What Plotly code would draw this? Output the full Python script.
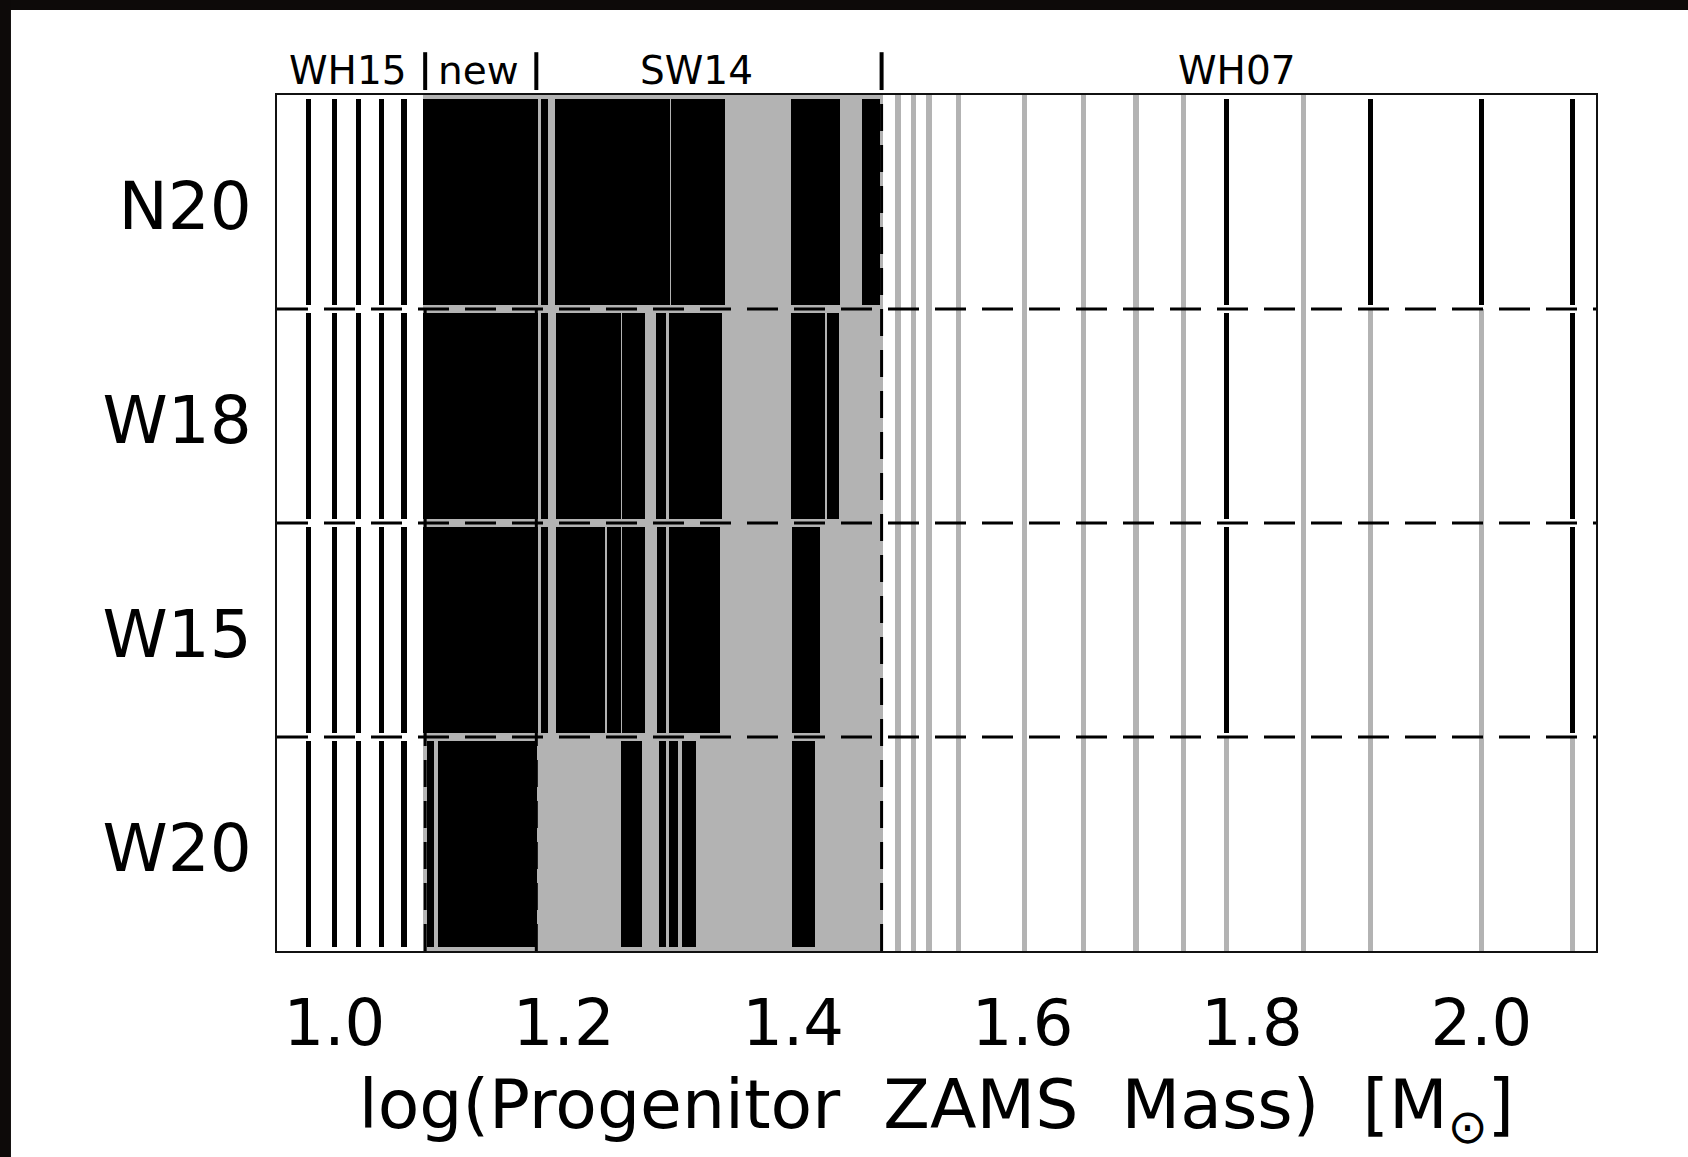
import numpy as np
import plotly.graph_objects as go

# Explosion engines, top to bottom
rows = ["N20", "W18", "W15", "W20"]

# Progenitor model series and the masses (Msun) where one series hands over to the next
series_names = ["WH15", "new", "SW14", "WH07"]
series_bounds = [12.0, 15.0, 30.0]

# Sparse low-mass models (WH15), 1 = explodes
wh15_mass = [9.5, 10.0, 10.5, 11.0, 11.5]
wh15_explodes = {
    "N20": [1, 1, 1, 1, 1],
    "W18": [1, 1, 1, 1, 1],
    "W15": [1, 1, 1, 1, 1],
    "W20": [1, 1, 1, 1, 1],
}

# Sparse high-mass models (WH07), 1 = explodes, 0 = black hole
wh07_mass = [31, 32, 33, 35, 40, 45, 50, 55, 60, 70, 80, 100, 120]
wh07_explodes = {
    "N20": [0, 0, 0, 0, 0, 0, 0, 0, 1, 0, 1, 1, 1],
    "W18": [0, 0, 0, 0, 0, 0, 0, 0, 1, 0, 0, 0, 1],
    "W15": [0, 0, 0, 0, 0, 0, 0, 0, 1, 0, 0, 0, 1],
    "W20": [0, 0, 0, 0, 0, 0, 0, 0, 0, 0, 0, 0, 0],
}

# Densely sampled grid (new + SW14), log10(M) extent
dense_span = [1.0775, 1.4785]

# Exploding stretches of the dense grid, log10(M) [low, high]
explosion_ranges = {
    "N20": [(1.0770, 1.1773), (1.1801, 1.1862), (1.1922, 1.2925), (1.2935, 1.3409),
            (1.3978, 1.4412), (1.4601, 1.4761)],
    "W18": [(1.0770, 1.1773), (1.1801, 1.1862), (1.1933, 1.2498), (1.2508, 1.2712),
            (1.2805, 1.2894), (1.2922, 1.3380), (1.3978, 1.4281), (1.4298, 1.4398)],
    "W15": [(1.0770, 1.1773), (1.1801, 1.1862), (1.1933, 1.2360), (1.2378, 1.2502),
            (1.2512, 1.2709), (1.2812, 1.2894), (1.2922, 1.3366), (1.3989, 1.4234)],
    "W20": [(1.0807, 1.0865), (1.0908, 1.1766), (1.2502, 1.2680), (1.2833, 1.2894),
            (1.2922, 1.2999), (1.3029, 1.3153), (1.3989, 1.4192)],
}

x_ticks = [1.0, 1.2, 1.4, 1.6, 1.8, 2.0]

BLACK = "#000000"
GREY = "#b3b3b3"
DARK = "#0d0a09"
LINE_W = 0.0045      # drawn width of a single model, in log10(M)
FULL_H = 1.0         # failed models fill the whole row
EXPL_H = 0.958       # exploding models leave a thin margin

fig = go.Figure()

# grey backdrop for the dense grid (failed models)
fig.add_trace(go.Bar(
    orientation="h", y=list(range(len(rows))),
    base=[dense_span[0]] * len(rows),
    x=[dense_span[1] - dense_span[0]] * len(rows),
    width=FULL_H, marker=dict(color=GREY, line=dict(width=0)),
    hoverinfo="skip", showlegend=False))

# individual models of the sparse series
grey_y, grey_b, black_y, black_b = [], [], [], []
for i, r in enumerate(rows):
    for masses, outcome in ((wh15_mass, wh15_explodes[r]), (wh07_mass, wh07_explodes[r])):
        for m, ok in zip(masses, outcome):
            lm = np.log10(m) - LINE_W / 2
            if ok:
                black_y.append(i); black_b.append(lm)
            else:
                grey_y.append(i); grey_b.append(lm)

fig.add_trace(go.Bar(
    orientation="h", y=grey_y, base=grey_b, x=[LINE_W] * len(grey_y),
    width=FULL_H, marker=dict(color=GREY, line=dict(width=0)),
    hoverinfo="skip", showlegend=False))
fig.add_trace(go.Bar(
    orientation="h", y=black_y, base=black_b, x=[LINE_W] * len(black_y),
    width=EXPL_H, marker=dict(color=BLACK, line=dict(width=0)),
    hoverinfo="skip", showlegend=False))

# exploding stretches of the dense grid
ry, rb, rw = [], [], []
for i, r in enumerate(rows):
    for lo, hi in explosion_ranges[r]:
        ry.append(i); rb.append(lo); rw.append(hi - lo)
fig.add_trace(go.Bar(
    orientation="h", y=ry, base=rb, x=rw,
    width=EXPL_H, marker=dict(color=BLACK, line=dict(width=0)),
    hoverinfo="skip", showlegend=False))

shapes = []
# dark strips along the top and left edges of the page
shapes.append(dict(type="rect", xref="paper", yref="paper",
                   x0=-0.4, x1=1.5, y0=1.0993, y1=1.4,
                   fillcolor=DARK, line=dict(width=0), layer="below"))
shapes.append(dict(type="rect", xref="paper", yref="paper",
                   x0=-0.4, x1=-0.2017, y0=-0.6, y1=1.4,
                   fillcolor=DARK, line=dict(width=0), layer="below"))
# dashed separators between engines
for k in range(len(rows) - 1):
    shapes.append(dict(type="line", xref="paper", yref="y", x0=0, x1=1,
                       y0=k + 0.5, y1=k + 0.5,
                       line=dict(color=BLACK, width=3, dash="31px,16px")))
# dashed separators between model series, plus the markers above the frame
for m in series_bounds:
    lm = np.log10(m)
    shapes.append(dict(type="line", xref="x", yref="y", x0=lm, x1=lm,
                       y0=len(rows) - 0.5, y1=-0.5,
                       line=dict(color=BLACK, width=3, dash="27px,14px")))
    shapes.append(dict(type="line", xref="x", yref="paper", x0=lm, x1=lm,
                       y0=1.0058, y1=1.050,
                       line=dict(color=BLACK, width=4)))

# series names above the frame
label_x = [1.012, 1.126, 1.316, 1.787]
annotations = [dict(x=lx, y=1.0283, xref="x", yref="paper", text=name,
                    showarrow=False, xanchor="center", yanchor="middle",
                    font=dict(family="DejaVu Sans", size=39, color=BLACK))
               for lx, name in zip(label_x, series_names)]

fig.update_layout(
    width=1688, height=1157,
    margin=dict(l=277, r=92, t=95, b=206, pad=0),
    paper_bgcolor="white", plot_bgcolor="white",
    barmode="overlay", bargap=0,
    shapes=shapes, annotations=annotations,
    showlegend=False,
    font=dict(family="DejaVu Sans", color=BLACK),
)
fig.update_xaxes(
    range=[0.95, 2.1], tickvals=x_ticks, ticktext=[f"{v:.1f}" for v in x_ticks],
    ticks="", ticklabelstandoff=15, tickfont=dict(size=64, color=BLACK),
    showgrid=False, zeroline=False, showline=True, mirror=True,
    linecolor="#111111", linewidth=2, automargin=False,
    title=dict(text="log(Progenitor\u00a0 ZAMS\u00a0 Mass)\u00a0 [M<sub>\u2299</sub>]",
               font=dict(size=68, color=BLACK), standoff=22),
)
fig.update_yaxes(
    range=[len(rows) - 0.5, -0.5], tickvals=[i + 0.02 for i in range(len(rows))],
    ticktext=rows,
    ticks="", ticklabelstandoff=10, tickfont=dict(size=66, color=BLACK),
    showgrid=False, zeroline=False, showline=True, mirror=True,
    linecolor="#111111", linewidth=2, automargin=False,
)

fig.write_html("out.html")
